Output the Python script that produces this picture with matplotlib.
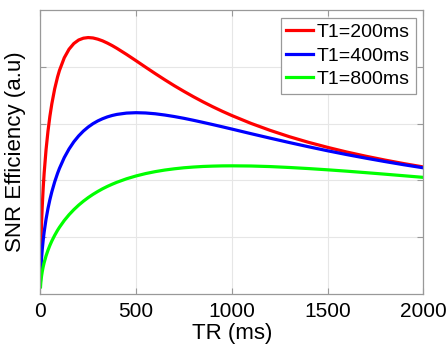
import matplotlib
matplotlib.use("Agg")
import matplotlib.pyplot as plt

# TR sample points (ms) and SNR efficiency values
tr = [1, 2, 3, 5, 7, 10, 15, 20, 30, 40,
      50, 60, 75, 90, 100, 125, 150, 175, 200, 225,
      250, 275, 300, 325, 350, 375, 400, 450, 500, 550,
      600, 650, 700, 750, 800, 850, 900, 950, 1000, 1100,
      1200, 1300, 1400, 1500, 1600, 1700, 1800, 1900, 2000]

snr_200 = [0.499, 0.704, 0.860, 1.104, 1.300, 1.542, 1.866, 2.128, 2.543, 2.866,
           3.128, 3.346, 3.611, 3.820, 3.935, 4.157, 4.308, 4.408, 4.470, 4.502,
           4.513, 4.506, 4.485, 4.455, 4.416, 4.372, 4.323, 4.217, 4.105, 3.991,
           3.879, 3.770, 3.665, 3.566, 3.471, 3.381, 3.296, 3.216, 3.141, 3.003,
           2.880, 2.769, 2.670, 2.581, 2.499, 2.425, 2.357, 2.294, 2.236]
snr_400 = [0.250, 0.353, 0.431, 0.556, 0.656, 0.781, 0.950, 1.091, 1.319, 1.505,
           1.662, 1.798, 1.974, 2.124, 2.212, 2.401, 2.553, 2.679, 2.782, 2.868,
           2.939, 2.998, 3.046, 3.085, 3.117, 3.142, 3.161, 3.184, 3.191, 3.186,
           3.172, 3.150, 3.123, 3.092, 3.057, 3.020, 2.982, 2.943, 2.903, 2.822,
           2.743, 2.666, 2.592, 2.521, 2.454, 2.391, 2.331, 2.274, 2.221]
snr_800 = [0.125, 0.177, 0.216, 0.279, 0.329, 0.393, 0.480, 0.552, 0.672, 0.771,
           0.857, 0.933, 1.033, 1.122, 1.175, 1.294, 1.396, 1.485, 1.564, 1.634,
           1.697, 1.754, 1.805, 1.852, 1.894, 1.932, 1.967, 2.028, 2.078, 2.120,
           2.154, 2.182, 2.204, 2.222, 2.235, 2.245, 2.251, 2.255, 2.256, 2.253,
           2.243, 2.227, 2.208, 2.186, 2.162, 2.136, 2.109, 2.081, 2.053]

labels = ['T1=200ms', 'T1=400ms', 'T1=800ms']
colors = ['#ff0000', '#0000ff', '#00ff00']

plt.rcParams['font.family'] = ['Liberation Sans', 'DejaVu Sans']

fig = plt.figure(figsize=(4.48, 3.53), dpi=100)
ax = fig.add_axes([0.090, 0.167, 0.855, 0.805])

for ys, lab, c in zip([snr_200, snr_400, snr_800], labels, colors):
    ax.plot(tr, ys, color=c, lw=2.3, label=lab, solid_joinstyle='round')

ax.set_xlim(0, 2000)
ax.set_ylim(0, 5)
ax.set_xticks([0, 500, 1000, 1500, 2000])
ax.set_yticks([1, 2, 3, 4])
ax.set_yticklabels([])
ax.grid(True, color='#e6e6e6', lw=0.8)
ax.set_axisbelow(True)

for sp in ax.spines.values():
    sp.set_color('#999999')
    sp.set_linewidth(0.9)
ax.tick_params(direction='in', length=4, width=0.8, color='#999999',
               top=True, right=True, labelsize=15, pad=6)

ax.set_xlabel('TR (ms)', fontsize=16, labelpad=1)
ax.set_ylabel('SNR Efficiency (a.u)', fontsize=16, labelpad=4)

leg = ax.legend(loc='upper right', fontsize=14, handlelength=1.35, handletextpad=0.2,
                labelspacing=0.3, borderpad=0.3, borderaxespad=0.4, fancybox=False,
                framealpha=1, edgecolor='#999999')
leg.get_frame().set_linewidth(0.9)

fig.savefig('out.png', dpi=100)
